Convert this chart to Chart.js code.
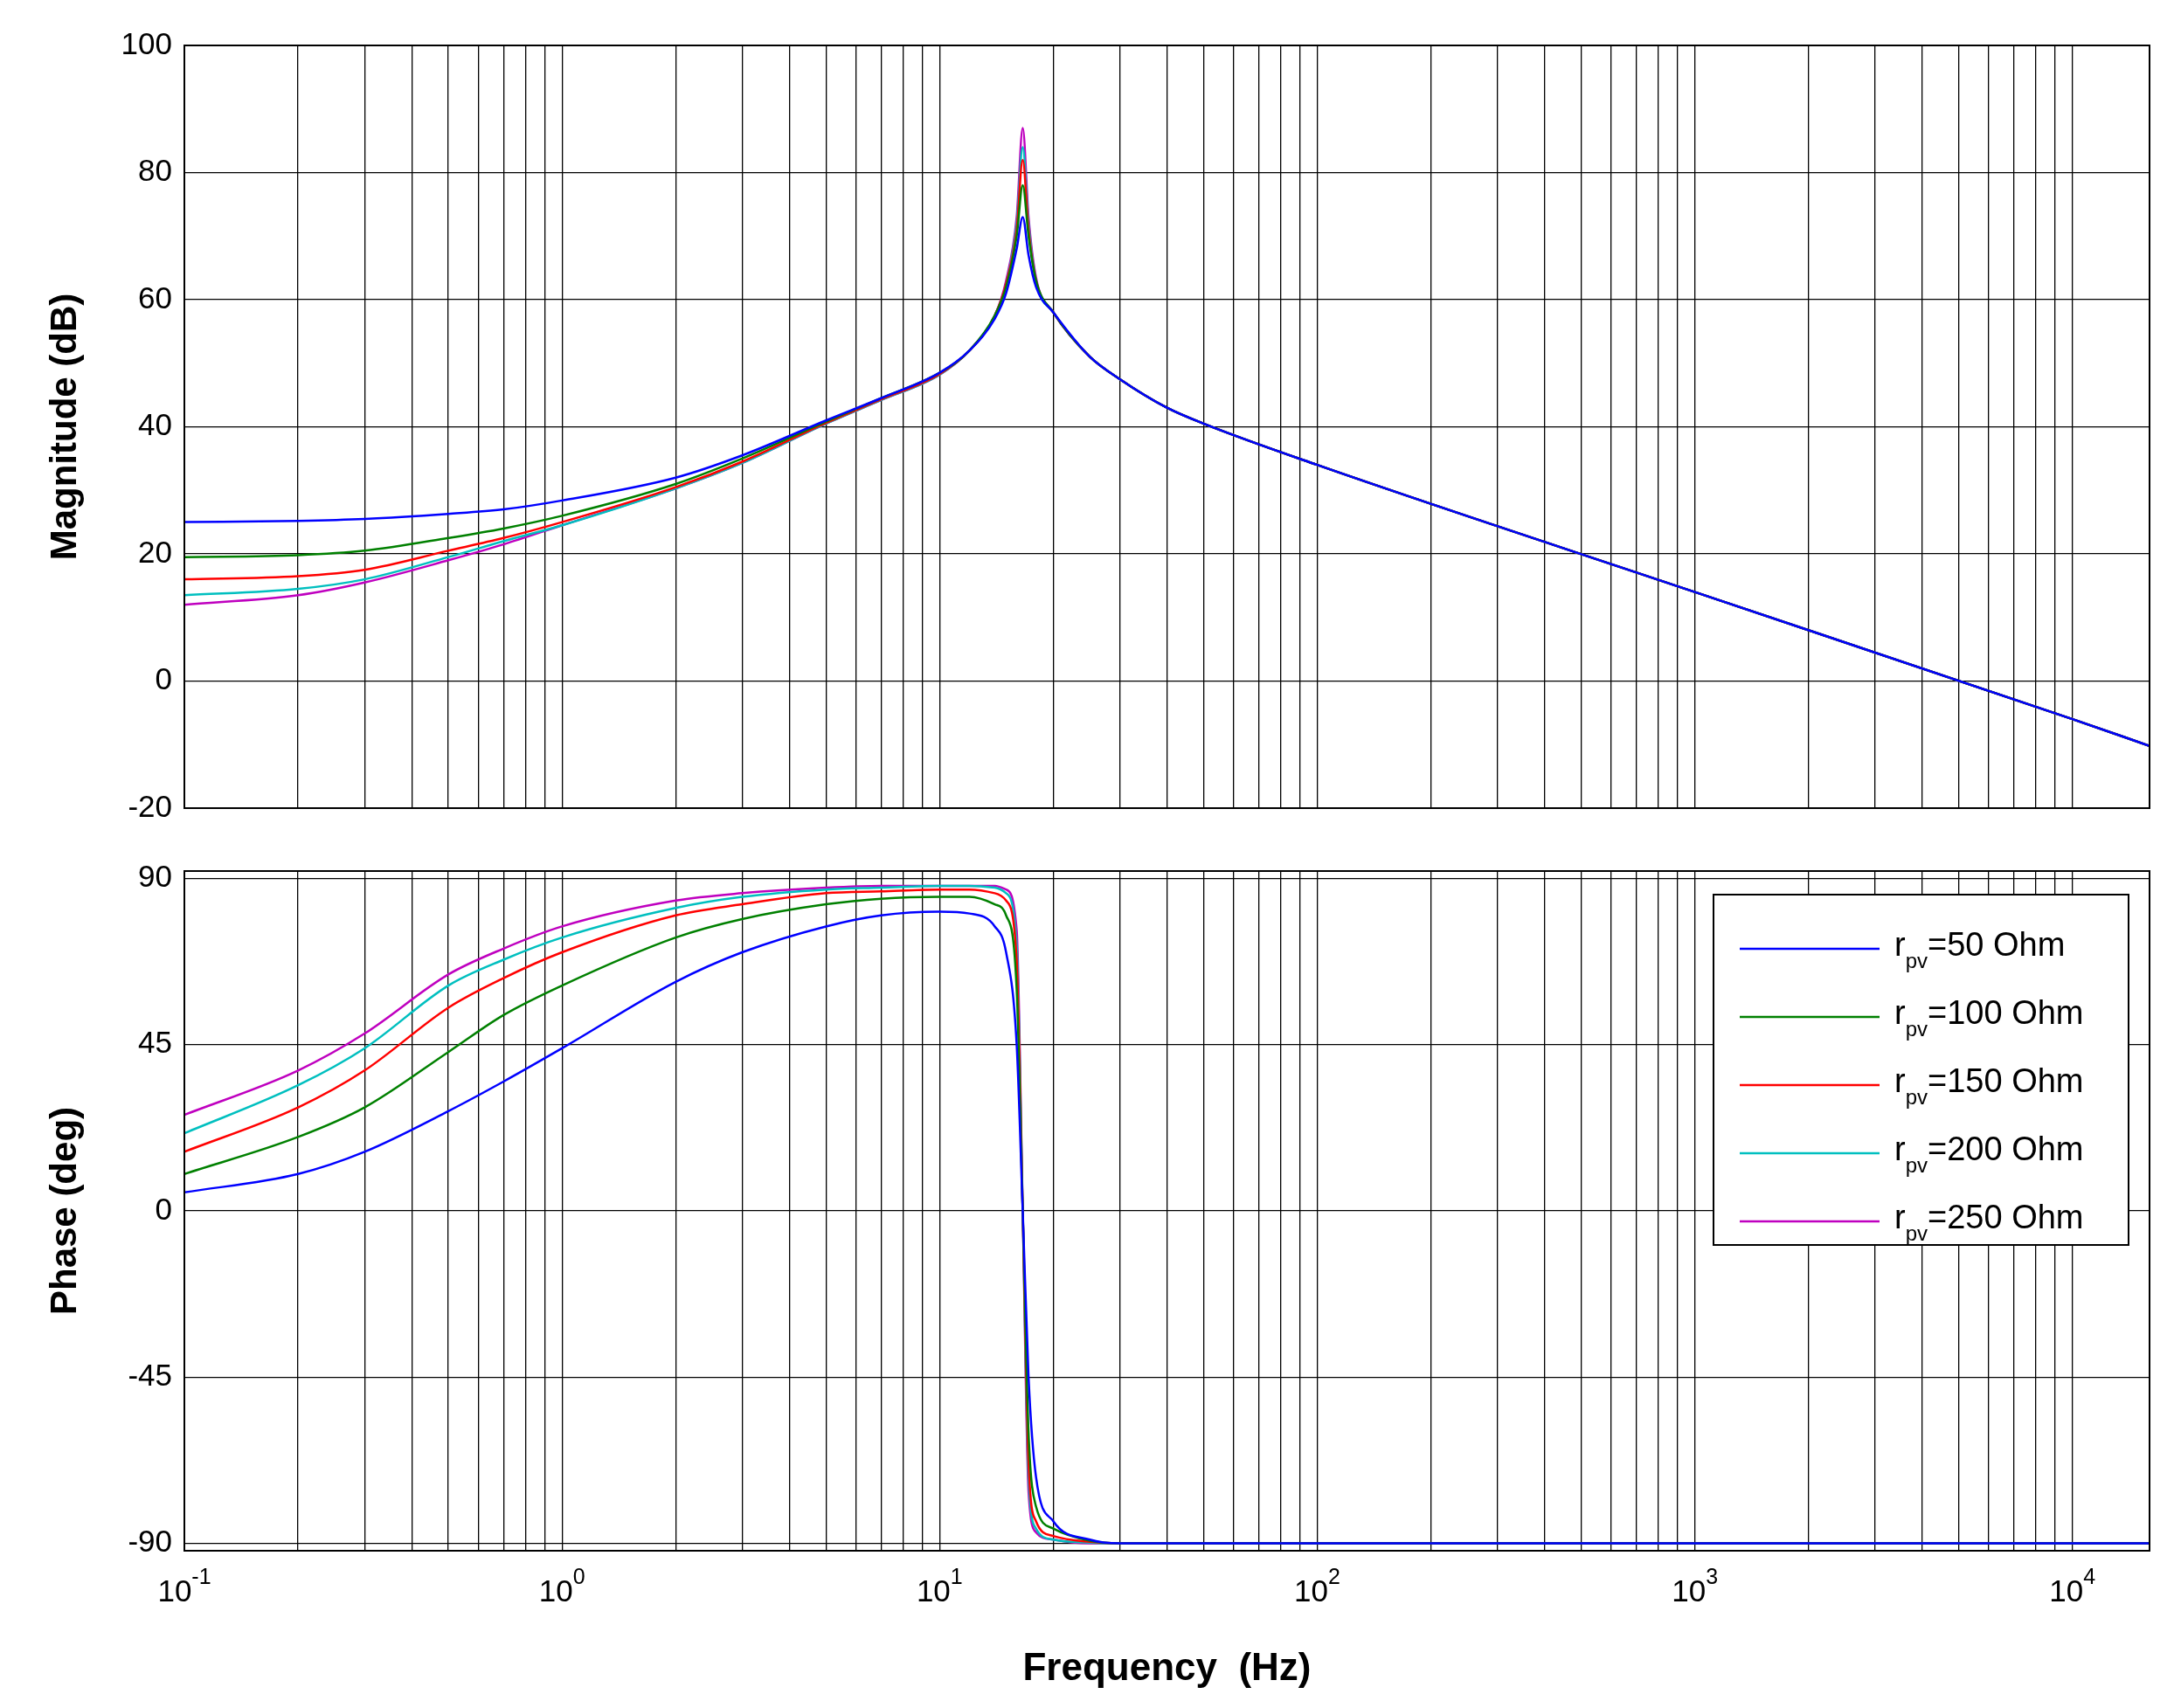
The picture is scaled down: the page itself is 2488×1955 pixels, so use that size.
<!DOCTYPE html>
<html><head><meta charset="utf-8">
<script src="https://cdn.jsdelivr.net/npm/chart.js@4/dist/chart.umd.min.js"></script>
<style>body{margin:0;background:#fff;width:2488px;height:1955px;position:relative;overflow:hidden}
canvas{position:absolute;left:0}</style></head><body>
<canvas id="c1" width="2488" height="960" style="top:0;width:2488px;height:960px"></canvas>
<canvas id="c2" width="2488" height="995" style="top:960px;width:2488px;height:995px"></canvas>
<script>
const freqs=[0.1,0.2,0.3,0.5,0.7,1,2,3,5,7,10,12,14,15,16,16.6,17.2,18,20,25,30,40,50,100,1000,10000,16000];
const seriesNames=['50 Ohm','100 Ohm','150 Ohm','200 Ohm','250 Ohm'];
const colors=['#0000ff','#008000','#ff0000','#00bfbf','#bf00bf'];
const tail=[58,51,47.5,43,40.5,34,14,-6,-10.2];
const mag50=[25,25.2,25.5,26.3,27,28.4,32,35.5,41,44.5,48.5,52,57,61,68,73,67,62,...tail];
const mag100=[19.5,19.8,20.5,22.5,24,26,31,35,40.8,44.5,48.5,52,57.5,62,70,78,70,63,...tail];
const mag150=[16,16.5,17.5,20.5,22.5,25,30.5,34.5,40.6,44.3,48.3,52,57.5,62.5,71,82,71,63,...tail];
const mag200=[13.5,14.5,16,19.5,22,24.5,30.3,34.3,40.5,44.2,48.2,52,57.5,62.5,72,84,72,63,...tail];
const mag250=[12,13.5,15.5,19,21.5,24.5,30.3,34.3,40.5,44.2,48.2,52,57.5,63,73,87,73,63.5,...tail];
const ph50=[5,10,16,27,35,44,62,70,77,80,81,80.5,77,70,45,0,-45,-72,-84,-89,-90,-90,-90,-90,-90,-90,-90];
const ph100=[10,20,28,43,53,61,74,79,83,84.5,85,85,83,80,60,0,-60,-80,-86,-89.3,-90,-90,-90,-90,-90,-90,-90];
const ph150=[16,28,38,55,63,70,80,83,86,86.5,87,87,86,84,68,0,-68,-84,-88,-89.6,-90,-90,-90,-90,-90,-90,-90];
const ph200=[21,34,44,61,68,74,82,85,87,87.5,88,88,87.5,86,72,0,-72,-86,-89,-89.8,-90,-90,-90,-90,-90,-90,-90];
const ph250=[26,38,48,64,71,77,84,86,87.5,88,88,88,88,87,76,0,-76,-87,-89,-90,-90,-90,-90,-90,-90,-90,-90];
const magTicks=[-20,0,20,40,60,80,100];
const phaseTicks=[-90,-45,0,45,90];
const xDecades=[-1,0,1,2,3,4];

const FONT='"Liberation Sans", Arial, sans-serif';
function ds(arrs){return arrs.map((a,i)=>({label:'r_pv='+seriesNames[i],data:freqs.map((f,j)=>({x:f,y:a[j]})),borderColor:colors[i],borderWidth:2.5,pointRadius:0,fill:false,cubicInterpolationMode:'monotone'}));}
function xTicks(){const t=[];for(const e of xDecades)for(let m=1;m<=9;m++){const v=m*Math.pow(10,e);if(v<=16000)t.push({value:v});}return t;}
const grid={color:'#000',lineWidth:1.3,borderDash:[2,7],drawTicks:false};
const boxPlugin={id:'box',afterDraw(c){const a=c.chartArea,x=c.ctx;x.save();x.strokeStyle='#000';x.lineWidth=2;x.strokeRect(a.left,a.top,a.right-a.left,a.bottom-a.top);x.restore();}};
function xScale(h){return {type:'logarithmic',min:0.1,max:16000,afterBuildTicks:s=>{s.ticks=xTicks();},ticks:{display:false},grid:grid,border:{display:false},afterFit:s=>{s.height=h;}};}
function yScale(min,max,ticks,title){return {min,max,afterBuildTicks:s=>{s.ticks=ticks.map(v=>({value:v}));},
 ticks:{color:'#000',font:{family:FONT,size:35},padding:14},grid:grid,border:{display:false},
 title:{display:true,text:title,color:'#000',font:{family:FONT,size:42,weight:'bold'},padding:{top:50,bottom:4}},afterFit:s=>{s.width=211;}};}

new Chart(document.getElementById('c1'),{type:'line',data:{datasets:ds([mag50,mag100,mag150,mag200,mag250])},
 options:{responsive:false,animation:false,devicePixelRatio:1,layout:{padding:{top:52,right:28,left:0,bottom:0}},
 plugins:{legend:{display:false},tooltip:{enabled:false}},
 scales:{x:xScale(29),y:yScale(-20,100,magTicks,'Magnitude (dB)')}},plugins:[boxPlugin]});

const labelPlugin={id:'lbl',afterDraw(c){const x=c.ctx,xs=c.scales.x,a=c.chartArea;x.save();x.fillStyle='#000';x.textBaseline='alphabetic';
 for(const e of xDecades){const px=xs.getPixelForValue(Math.pow(10,e));x.font='35px '+FONT;const w=x.measureText('10').width;x.font='25px '+FONT;const w2=x.measureText(String(e)).width;
  const sx=px-(w+w2)/2;x.font='35px '+FONT;x.textAlign='left';x.fillText('10',sx,a.bottom+58);x.font='25px '+FONT;x.fillText(String(e),sx+w,a.bottom+38);}
 x.font='bold 44px '+FONT;x.textAlign='center';x.fillText('Frequency  (Hz)',(a.left+a.right)/2,a.bottom+148);
 const L=1961,T=1024-960,W=475,H=401;x.fillStyle='#fff';x.fillRect(L,T,W,H);x.strokeStyle='#000';x.lineWidth=2;x.strokeRect(L,T,W,H);
 seriesNames.forEach((n,i)=>{const y=T+62+i*78;x.strokeStyle=colors[i];x.lineWidth=2.5;x.beginPath();x.moveTo(L+30,y);x.lineTo(L+190,y);x.stroke();
  x.fillStyle='#000';x.textAlign='left';x.font='38px '+FONT;x.fillText('r',L+207,y+8);const rw=x.measureText('r').width;
  x.font='24px '+FONT;x.fillText('pv',L+207+rw,y+22);const pw=x.measureText('pv').width;x.font='38px '+FONT;x.fillText('='+n,L+207+rw+pw,y+8);});
 x.restore();}};
new Chart(document.getElementById('c2'),{type:'line',data:{datasets:ds([ph50,ph100,ph150,ph200,ph250])},
 options:{responsive:false,animation:false,devicePixelRatio:1,layout:{padding:{top:37,right:28,left:0,bottom:0}},
 plugins:{legend:{display:false},tooltip:{enabled:false}},
 scales:{x:xScale(180),y:yScale(-92,92,phaseTicks,'Phase (deg)')}},plugins:[boxPlugin,labelPlugin]});
</script></body></html>
